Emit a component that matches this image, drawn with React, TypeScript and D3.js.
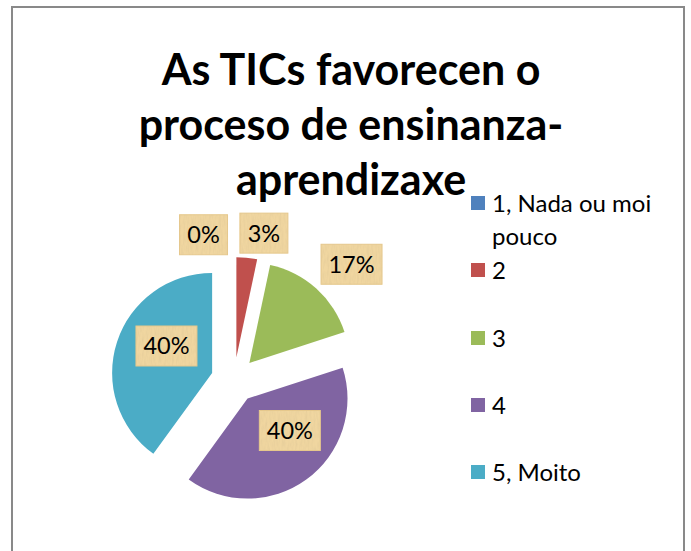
import * as d3 from 'd3'

// chart data
const categories = ['1, Nada ou moi pouco', '2', '3', '4', '5, Moito']
const counts = [0, 1, 5, 12, 12]
const colors = ['#4F81BD', '#C0504D', '#9BBB59', '#8064A2', '#4BACC6']
const titleLines = ['As TICs favorecen o', 'proceso de ensinanza-', 'aprendizaxe']

// layout
const width = 691
const height = 551
const cx = 234
const cy = 380
const radius = 100
const explode = 23
// label placement relative to each exploded slice (radius factor, angle shift in degrees)
const labelPos = [
  { r: 1.26, da: -14 },
  { r: 1.27, da: 6.5 },
  { r: 1.42, da: 4 },
  { r: 0.53, da: -17 },
  { r: 0.53, da: 12.5 },
]
const legendRows = [[203, 236], [270], [338], [405], [472]]

export default function App() {
  const total = d3.sum(counts)
  const pie = d3.pie<number>().sort(null).value((d) => d)
  const arcs = pie(counts)
  const arc = d3.arc<d3.PieArcDatum<number>>().innerRadius(0).outerRadius(radius)
  const fmt = (v: number) => `${Math.round((v / total) * 100)}%`

  return (
    <svg
      width={width}
      height={height}
      style={{ position: 'absolute', left: 0, top: 0, background: '#fff' }}
    >
      <defs>
        <filter id="paper" x="0" y="0" width="100%" height="100%">
          <feTurbulence type="fractalNoise" baseFrequency="0.5 0.12" numOctaves="2" seed="4" result="n" />
          <feColorMatrix
            in="n"
            type="matrix"
            values="0 0 0 0 0.72  0 0 0 0 0.56  0 0 0 0 0.3  1.4 0 0 0 -0.5"
            result="c"
          />
          <feComposite in="c" in2="SourceGraphic" operator="in" />
        </filter>
      </defs>
      <rect x={12} y={7} width={672} height={600} fill="#fff" stroke="#898989" strokeWidth={2} />

      <g fontFamily="Lato, 'Open Sans', sans-serif" fontWeight="bold" fontSize={43} textAnchor="middle" fill="#000">
        {titleLines.map((t, i) => (
          <text key={i} x={351} y={85 + i * 55}>
            {t}
          </text>
        ))}
      </g>

      <g>
        {arcs.map((a, i) => {
          const mid = (a.startAngle + a.endAngle) / 2
          const dx = Math.sin(mid) * explode
          const dy = -Math.cos(mid) * explode
          return (
            <path
              key={i}
              d={arc(a) ?? ''}
              transform={`translate(${cx + dx},${cy + dy})`}
              fill={colors[i]}
            />
          )
        })}
      </g>

      <g fontFamily="Lato, 'Open Sans', sans-serif" fontSize={23.5} fill="#000">
        {arcs.map((a, i) => {
          const mid = (a.startAngle + a.endAngle) / 2
          const ox = cx + Math.sin(mid) * explode
          const oy = cy - Math.cos(mid) * explode
          const ang = mid + (labelPos[i].da * Math.PI) / 180
          const lr = labelPos[i].r * radius
          const lx = ox + Math.sin(ang) * lr
          const ly = oy - Math.cos(ang) * lr
          const txt = fmt(a.value)
          const w = txt.length * 13 + 22
          return (
            <g key={i} transform={`translate(${lx},${ly})`}>
              <rect x={-w / 2} y={-20} width={w} height={40} fill="#F0D6A0" stroke="#E6C88C" strokeWidth={1} />
              <rect x={-w / 2} y={-20} width={w} height={40} fill="#F0D6A0" filter="url(#paper)" opacity={0.6} />
              <text textAnchor="middle" dy="0.36em">
                {txt}
              </text>
            </g>
          )
        })}
      </g>

      <g fontFamily="Lato, 'Open Sans', sans-serif" fontSize={24} fill="#000">
        {categories.map((c, i) => {
          const words = c === '1, Nada ou moi pouco' ? ['1, Nada ou moi', 'pouco'] : [c]
          return (
            <g key={i}>
              <rect x={471} y={legendRows[i][0] - 7} width={14} height={14} fill={colors[i]} />
              {words.map((w, j) => (
                <text key={j} x={492} y={legendRows[i][j]} dy="0.36em">
                  {w}
                </text>
              ))}
            </g>
          )
        })}
      </g>
    </svg>
  )
}
